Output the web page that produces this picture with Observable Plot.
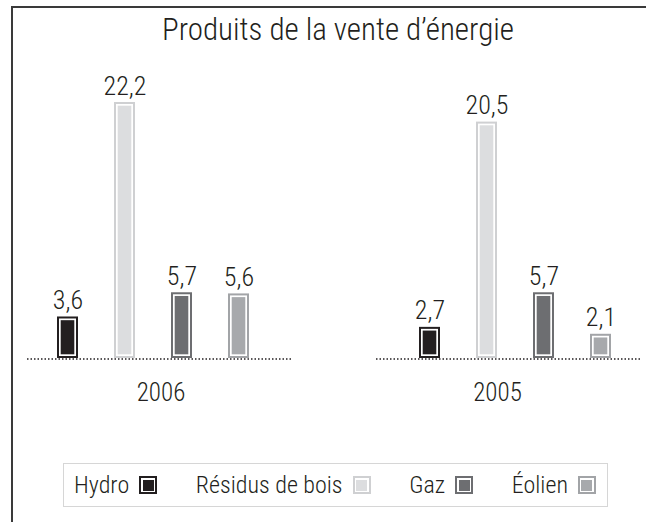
<!DOCTYPE html>
<html>
<head>
<meta charset="utf-8">
<script src="https://cdn.jsdelivr.net/npm/d3@7"></script>
<script src="https://cdn.jsdelivr.net/npm/@observablehq/plot@0.6"></script>
<style>
  html, body { margin: 0; padding: 0; background: #fff; }
  body { width: 646px; height: 522px; position: relative; overflow: hidden; font-weight: 300;
         font-family: "Liberation Sans Narrow", "Roboto Condensed", "Arial Narrow", "Liberation Sans", sans-serif; color: #231f20; }
  #frame { position: absolute; left: 11px; top: 6px; right: -4px; bottom: -4px;
           border-left: 2px solid #3a3a3a; border-top: 2px solid #3a3a3a; }
  #title { position: absolute; left: 0; width: 676px; top: 14px; text-align: center; font-size: 31px; line-height: 1; }
  .chart { position: absolute; top: 0; }
  .chart svg text { font-weight: 300; }
  #legend { position: absolute; left: 63px; top: 463px; width: 545px; height: 44px; box-sizing: border-box;
            border: 1.5px solid #d6d6d6; display: flex; align-items: center; justify-content: space-between;
            padding: 0 11px 0 10px; font-size: 24px; }
  .item { display: flex; align-items: center; }
  .sw { width: 18px; height: 18px; box-sizing: border-box; border: 2px solid; margin-left: 10px; position: relative; background: #fff; }
  .sw span { position: absolute; left: 1.5px; top: 1.5px; right: 1.5px; bottom: 1.5px; }
</style>
</head>
<body>
<div id="frame"></div>
<div id="title">Produits de la vente d’énergie</div>
<div id="c2006" class="chart" style="left:0"></div>
<div id="c2005" class="chart" style="left:323px"></div>
<div id="legend"></div>
<script>
const years = ["2006", "2005"];
const categories = ["Hydro", "Résidus de bois", "Gaz", "Éolien"];
const values2006 = [3.6, 22.2, 5.7, 5.6];
const values2005 = [2.7, 20.5, 5.7, 2.1];
const fills = ["#231f20", "#dcdddf", "#6d6e71", "#a7a9ac"];
const strokes = ["#231f20", "#cfd0d2", "#6d6e71", "#a2a4a7"];

const fmt = v => d3.format(".1f")(v).replace(".", ",");
const font = '"Liberation Sans Narrow", "Roboto Condensed", "Arial Narrow", "Liberation Sans", sans-serif';

function panel(year, values, opts) {
  const rows = categories.map((c, i) => ({cat: c, value: values[i], fill: fills[i], stroke: strokes[i]}));
  return Plot.plot({
    width: 323,
    height: 420,
    marginLeft: opts.left,
    marginRight: opts.right,
    marginTop: 102,
    marginBottom: 62,
    style: {fontFamily: font, fontSize: "26px", color: "#231f20", background: "transparent", overflow: "visible"},
    x: {domain: categories, paddingInner: 0.635, paddingOuter: 0.626, align: opts.align, axis: null},
    y: {domain: [0, 22.2], nice: false, axis: null},
    color: {type: "identity"},
    marks: [
      Plot.barY(rows, {x: "cat", y: "value", fill: "white", stroke: "stroke", strokeWidth: 2, inset: 1}),
      Plot.barY(rows, {x: "cat", y: "value", fill: "fill", inset: 3.7}),
      Plot.ruleY([0], {stroke: "#231f20", strokeWidth: 1.5, strokeDasharray: "1.5,2", dy: 0.5}),
      Plot.text(rows, {x: "cat", y: "value", text: d => fmt(d.value), lineAnchor: "bottom", dy: -8, fontSize: 26, fill: "#231f20"}),
      Plot.text([year], {text: d => d, frameAnchor: "bottom", lineAnchor: "top", dy: 25, dx: opts.labelDx, fontSize: 25, fill: "#231f20"})
    ]
  });
}

document.getElementById("c2006").appendChild(panel(years[0], values2006, {left: 27, right: 31, align: 0.41, labelDx: 1}));
document.getElementById("c2005").appendChild(panel(years[1], values2005, {left: 53, right: 6, align: 0.6, labelDx: -11}));

const legend = document.getElementById("legend");
categories.forEach((c, i) => {
  const it = document.createElement("div");
  it.className = "item";
  const t = document.createElement("span");
  t.textContent = c;
  const sw = document.createElement("div");
  sw.className = "sw";
  sw.style.borderColor = strokes[i];
  const inner = document.createElement("span");
  inner.style.background = fills[i];
  sw.appendChild(inner);
  it.appendChild(t);
  it.appendChild(sw);
  legend.appendChild(it);
});
</script>
</body>
</html>
